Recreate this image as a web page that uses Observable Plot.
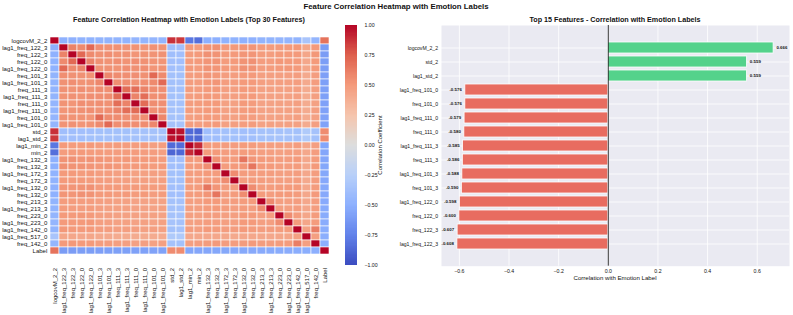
<!DOCTYPE html>
<html><head><meta charset="utf-8">
<script src="https://cdn.jsdelivr.net/npm/d3@7"></script>
<script src="https://cdn.jsdelivr.net/npm/@observablehq/plot@0.6"></script>
<style>
body{margin:0;background:#fff;font-family:"Liberation Sans",Arial,sans-serif;}
#fig{position:relative;width:793px;height:315px;overflow:hidden;background:#fff;}
#fig > *{position:absolute;}
.t{white-space:nowrap;color:#111;transform:translate(-50%,-50%);line-height:1;}
.b{font-weight:bold;}
</style></head><body><div id="fig"></div>
<script>
// ---------- DATA ----------
const heatFeatures = ["logcovM_2_2","lag1_freq_122_3","freq_122_3","freq_122_0","lag1_freq_122_0","freq_101_3","lag1_freq_101_3","freq_111_3","lag1_freq_111_3","freq_111_0","lag1_freq_111_0","freq_101_0","lag1_freq_101_0","std_2","lag1_std_2","lag1_min_2","min_2","lag1_freq_132_3","freq_132_3","lag1_freq_172_3","freq_172_3","lag1_freq_132_0","freq_132_0","freq_213_3","lag1_freq_213_3","freq_223_0","lag1_freq_223_0","lag1_freq_142_0","lag1_freq_517_0","freq_142_0","Label"];

// lower triangle of the correlation matrix (row i, columns 0..i)
const corrLower = [
[1],
[-0.49,1],
[-0.49,0.6,1],
[-0.48,0.57,0.71,1],
[-0.48,0.71,0.57,0.6,1],
[-0.47,0.55,0.54,0.54,0.53,1],
[-0.47,0.54,0.55,0.53,0.54,0.58,1],
[-0.47,0.54,0.53,0.55,0.53,0.56,0.55,1],
[-0.47,0.53,0.54,0.53,0.55,0.55,0.56,0.7,1],
[-0.46,0.53,0.52,0.55,0.54,0.55,0.54,0.69,0.6,1],
[-0.46,0.52,0.53,0.54,0.55,0.54,0.55,0.6,0.69,0.7,1],
[-0.46,0.54,0.53,0.53,0.52,0.71,0.57,0.56,0.55,0.56,0.55,1],
[-0.46,0.53,0.54,0.52,0.53,0.57,0.71,0.55,0.56,0.55,0.56,0.58,1],
[0.88,-0.39,-0.39,-0.38,-0.38,-0.37,-0.37,-0.37,-0.37,-0.36,-0.36,-0.36,-0.36,1],
[0.86,-0.38,-0.38,-0.38,-0.37,-0.37,-0.36,-0.37,-0.36,-0.36,-0.35,-0.36,-0.35,0.96,1],
[-0.8,0.5,0.49,0.49,0.5,0.48,0.48,0.49,0.48,0.48,0.49,0.47,0.48,-0.86,-0.85,1],
[-0.84,0.49,0.5,0.5,0.49,0.49,0.48,0.48,0.49,0.49,0.48,0.48,0.47,-0.88,-0.87,0.9,1],
[-0.5,0.53,0.54,0.52,0.53,0.52,0.51,0.5,0.51,0.5,0.5,0.5,0.49,-0.39,-0.38,0.5,0.49,1],
[-0.5,0.54,0.53,0.53,0.52,0.51,0.52,0.51,0.5,0.5,0.5,0.49,0.5,-0.38,-0.39,0.49,0.5,0.55,1],
[-0.48,0.5,0.5,0.49,0.5,0.48,0.48,0.47,0.47,0.46,0.46,0.47,0.46,-0.37,-0.37,0.48,0.48,0.5,0.49,1],
[-0.48,0.5,0.5,0.5,0.49,0.48,0.48,0.47,0.47,0.46,0.47,0.46,0.47,-0.37,-0.37,0.48,0.48,0.49,0.5,0.56,1],
[-0.49,0.52,0.52,0.53,0.54,0.5,0.5,0.5,0.49,0.5,0.49,0.49,0.48,-0.38,-0.38,0.49,0.49,0.66,0.52,0.49,0.48,1],
[-0.49,0.52,0.52,0.54,0.53,0.5,0.5,0.49,0.5,0.49,0.5,0.48,0.49,-0.38,-0.38,0.49,0.49,0.52,0.66,0.48,0.49,0.56,1],
[-0.47,0.49,0.49,0.48,0.48,0.47,0.47,0.46,0.46,0.45,0.45,0.46,0.45,-0.36,-0.36,0.47,0.47,0.5,0.5,0.48,0.48,0.49,0.49,1],
[-0.47,0.49,0.48,0.48,0.49,0.47,0.46,0.46,0.46,0.45,0.45,0.45,0.46,-0.36,-0.36,0.47,0.47,0.49,0.5,0.48,0.47,0.49,0.48,0.57,1],
[-0.46,0.5,0.5,0.51,0.5,0.47,0.47,0.46,0.46,0.46,0.45,0.46,0.45,-0.36,-0.35,0.47,0.46,0.48,0.48,0.47,0.47,0.5,0.5,0.47,0.47,1],
[-0.46,0.5,0.5,0.5,0.51,0.47,0.47,0.46,0.46,0.45,0.46,0.45,0.46,-0.35,-0.36,0.46,0.47,0.48,0.48,0.47,0.47,0.5,0.5,0.47,0.47,0.56,1],
[-0.47,0.51,0.5,0.5,0.5,0.48,0.48,0.47,0.47,0.47,0.46,0.47,0.46,-0.37,-0.36,0.48,0.47,0.5,0.49,0.48,0.48,0.5,0.49,0.48,0.48,0.49,0.49,1],
[-0.34,0.43,0.43,0.42,0.43,0.41,0.41,0.4,0.4,0.4,0.4,0.4,0.4,-0.3,-0.3,0.42,0.42,0.42,0.42,0.42,0.41,0.42,0.42,0.42,0.42,0.43,0.43,0.46,1],
[-0.46,0.5,0.51,0.5,0.5,0.48,0.48,0.47,0.47,0.46,0.47,0.46,0.47,-0.36,-0.37,0.47,0.48,0.49,0.5,0.48,0.48,0.49,0.5,0.48,0.48,0.49,0.49,0.62,0.47,1],
[0.666,-0.608,-0.607,-0.6,-0.598,-0.59,-0.588,-0.586,-0.585,-0.58,-0.579,-0.576,-0.576,0.559,0.559,-0.556,-0.555,-0.552,-0.55,-0.545,-0.543,-0.538,-0.536,-0.53,-0.528,-0.522,-0.52,-0.515,-0.51,-0.505,1]
];

const colorbarTicks = [-1, -0.75, -0.5, -0.25, 0, 0.25, 0.5, 0.75, 1];

const barFeatures = ["logcovM_2_2","std_2","lag1_std_2","lag1_freq_101_0","freq_101_0","lag1_freq_111_0","freq_111_0","lag1_freq_111_3","freq_111_3","lag1_freq_101_3","freq_101_3","lag1_freq_122_0","freq_122_0","freq_122_3","lag1_freq_122_3"];
const barValues = [0.666, 0.559, 0.559, -0.576, -0.576, -0.579, -0.580, -0.585, -0.586, -0.588, -0.590, -0.598, -0.600, -0.607, -0.608];
const barTicks = [-0.6, -0.4, -0.2, 0, 0.2, 0.4, 0.6];

// ---------- STYLE ----------
const FONT = "'Liberation Sans', Arial, sans-serif";
const cwDomain = [-1,-0.75,-0.5,-0.25,0,0.25,0.5,0.75,1];
const cwRange = ["#3B4CC0","#6282EA","#8DB0FE","#B8D0F9","#DDDDDD","#F5C4AC","#F49A7B","#DE604D","#B40426"];
const colorOpts = {type:"linear", domain: cwDomain, range: cwRange, interpolate: "rgb"};
const minus = s => s.replace("-", "\u2212");

const fig = document.getElementById("fig");
function addText(txt, x, y, size, bold, extra) {
  const d = document.createElement("div");
  d.className = "t" + (bold ? " b" : "");
  d.textContent = txt;
  d.style.left = x + "px"; d.style.top = y + "px"; d.style.fontSize = size + "px";
  if (extra) Object.assign(d.style, extra);
  fig.appendChild(d);
}

// ---------- HEATMAP ----------
const cells = [];
heatFeatures.forEach((r, i) => heatFeatures.forEach((c, j) => {
  cells.push({row: r, col: c, value: i >= j ? corrLower[i][j] : corrLower[j][i]});
}));

const heat = Plot.plot({
  width: 340, height: 315,
  marginLeft: 49.3, marginRight: 10.7, marginTop: 25, marginBottom: 50,
  style: {fontFamily: FONT, background: "transparent", color: "#111"},
  x: {domain: heatFeatures, padding: 0},
  y: {domain: heatFeatures, padding: 0},
  color: colorOpts,
  marks: [
    Plot.cell(cells, {x: "col", y: "row", fill: "value", stroke: "white", strokeWidth: 0.6}),
    Plot.axisY({tickSize: 0, tickPadding: 2.5, fontSize: 6, label: null}),
    Plot.axisX({tickSize: 0, tickPadding: 2.5, tickRotate: -90, fontSize: 6, label: null})
  ]
});
heat.style.left = "0px"; heat.style.top = "0px";
fig.appendChild(heat);

// ---------- COLORBAR ----------
const cbSteps = d3.range(-1, 1, 0.01);
const cbar = Plot.plot({
  width: 60, height: 315,
  marginLeft: 5, marginRight: 43, marginTop: 25, marginBottom: 50,
  style: {fontFamily: FONT, background: "transparent", color: "#111"},
  x: {domain: [0, 1], axis: null},
  y: {domain: [-1, 1]},
  color: colorOpts,
  marks: [
    Plot.rect(cbSteps, {x1: 0, x2: 1, y1: d => d, y2: d => d + 0.0105, fill: d => d + 0.005, shapeRendering: "crispEdges"}),
    Plot.axisY({anchor: "right", ticks: colorbarTicks, tickFormat: d => minus(d.toFixed(2)), tickSize: 0, tickPadding: 7, fontSize: 5.2, label: null})
  ]
});
cbar.style.left = "340px"; cbar.style.top = "0px";
fig.appendChild(cbar);
addText("Correlation Coefficient", 380, 145, 6, false, {transform: "translate(-50%,-50%) rotate(-90deg)"});

// ---------- BARS ----------
const bars = barFeatures.map((f, i) => ({feature: f, value: barValues[i]}));
const GREEN = "#54D28B", RED = "#E86C60";
const barPlot = Plot.plot({
  width: 398, height: 315,
  marginLeft: 46, marginRight: 4, marginTop: 25, marginBottom: 49.3,
  style: {fontFamily: FONT, background: "transparent", color: "#111"},
  x: {domain: [-0.672, 0.730]},
  y: {domain: barFeatures, paddingInner: 0.2, paddingOuter: 0.74},
  color: {type: "identity"},
  marks: [
    Plot.frame({fill: "#EAEAF2", stroke: null}),
    Plot.gridX({ticks: barTicks, stroke: "white", strokeOpacity: 1, strokeWidth: 0.8}),
    Plot.gridY({stroke: "white", strokeOpacity: 1, strokeWidth: 0.8}),
    Plot.barX(bars, {x: "value", y: "feature", fill: d => d.value > 0 ? GREEN : RED, stroke: "white", strokeWidth: 0.8}),
    Plot.ruleX([0], {stroke: "#222", strokeWidth: 0.9}),
    Plot.text(bars.filter(d => d.value > 0), {x: "value", y: "feature", text: d => d.value.toFixed(3), textAnchor: "start", dx: 2.8, fontSize: 4.4, fontWeight: "bold", fill: "#111"}),
    Plot.text(bars.filter(d => d.value < 0), {x: "value", y: "feature", text: d => d.value.toFixed(3), textAnchor: "end", dx: -3.5, fontSize: 4.4, fontWeight: "bold", fill: "#111"}),
    Plot.axisY({tickSize: 0, tickPadding: 3.5, fontSize: 5.1, label: null}),
    Plot.axisX({ticks: barTicks, tickSize: 0, tickPadding: 3, fontSize: 5.2, tickFormat: d => minus(d.toFixed(1)), label: null})
  ]
});
barPlot.style.left = "395px"; barPlot.style.top = "0px";
fig.appendChild(barPlot);
addText("Correlation with Emotion Label", 615, 278.3, 6.1, false);

// ---------- TITLES ----------
addText("Feature Correlation Heatmap with Emotion Labels", 396, 7, 7.8, true);
addText("Feature Correlation Heatmap with Emotion Labels (Top 30 Features)", 189, 20, 7.2, true);
addText("Top 15 Features - Correlation with Emotion Labels", 615, 20, 7.2, true);
</script></body></html>
